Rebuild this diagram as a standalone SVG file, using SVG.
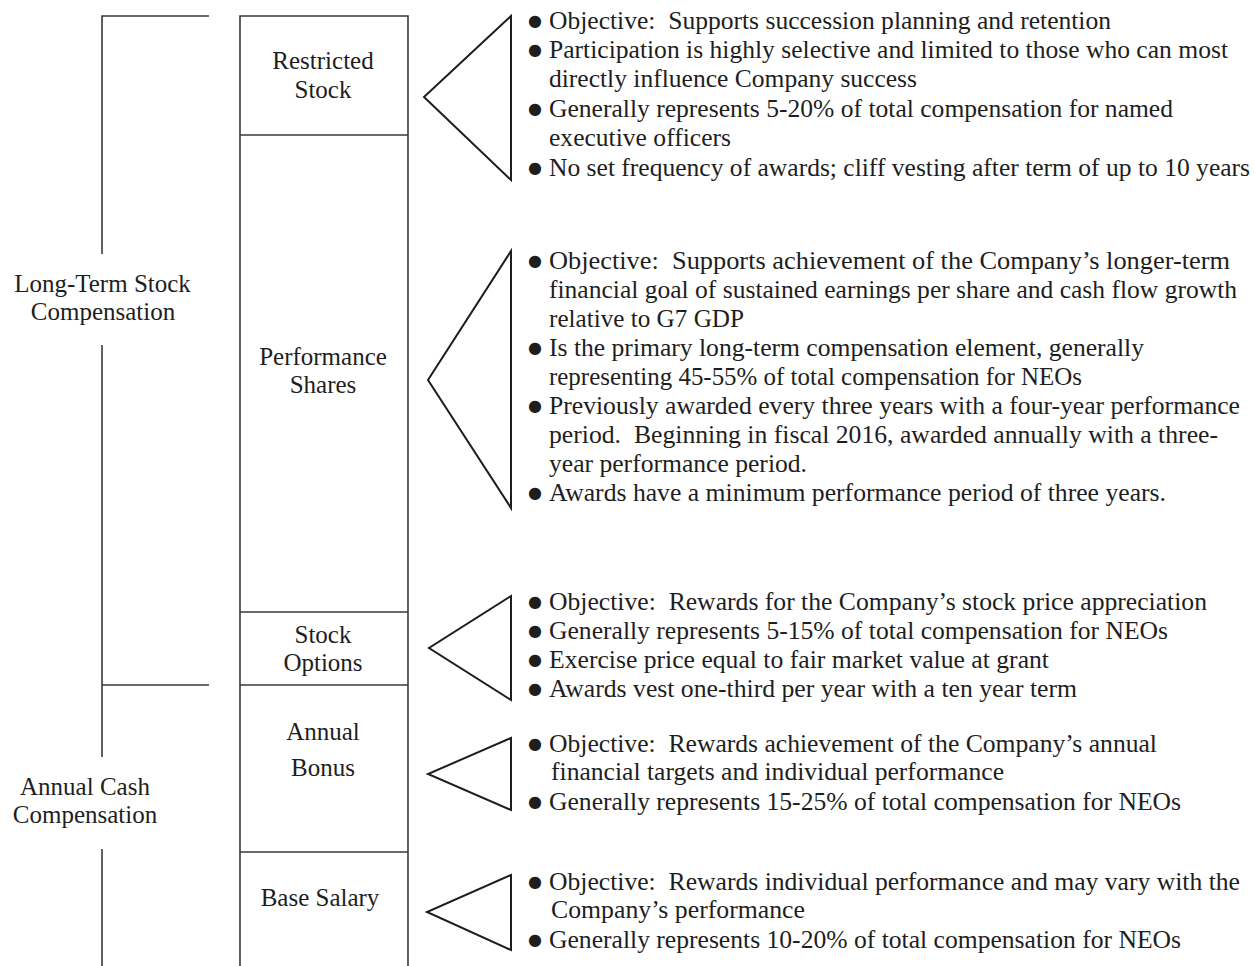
<svg xmlns="http://www.w3.org/2000/svg" width="1254" height="966" viewBox="0 0 1254 966">
<style>
.ln{stroke:#3a3a3a;stroke-width:1.6;fill:none}
.tri{stroke:#1e1e1e;stroke-width:2;fill:none;stroke-linejoin:miter}
text{font-family:"Liberation Serif","Times New Roman",serif;fill:#1e1e1e;white-space:pre}
.lab{font-size:25px;text-anchor:middle}
.bt{font-size:25px}
.bu{font-family:"DejaVu Sans",sans-serif;font-size:16px}
</style>
<rect width="1254" height="966" fill="#ffffff"/>
<g id="connectors">
<path class="ln" d="M209,16H102V254M102,345V757M102,685H209M102,849V966"/>
<polygon class="tri" points="511,16 424,97 511,180"/>
<polygon class="tri" points="511,251 428,380 511,508"/>
<polygon class="tri" points="511,596 429,648 511,700"/>
<polygon class="tri" points="511,738 428,774 511,810"/>
<polygon class="tri" points="511,875 427,912 511,950"/>
</g>
<g id="long-term-stock-compensation">
<text class="lab" x="102.5" y="292">Long-Term Stock</text>
<text class="lab" x="103" y="320">Compensation</text>
</g>
<g id="annual-cash-compensation">
<text class="lab" x="85" y="795">Annual Cash</text>
<text class="lab" x="85" y="823">Compensation</text>
</g>
<g id="column">
<path class="ln" d="M240,966V16H408V966"/>
</g>
<g id="restricted-stock">
<path class="ln" d="M240,135H408"/>
<text class="lab" x="323" y="69">Restricted</text>
<text class="lab" x="323" y="98">Stock</text>
</g>
<g id="performance-shares">
<path class="ln" d="M240,612H408"/>
<text class="lab" x="323" y="365">Performance</text>
<text class="lab" x="323" y="393">Shares</text>
</g>
<g id="stock-options">
<path class="ln" d="M240,685H408"/>
<text class="lab" x="323" y="643">Stock</text>
<text class="lab" x="323" y="671">Options</text>
</g>
<g id="annual-bonus">
<path class="ln" d="M240,852H408"/>
<text class="lab" x="323" y="740">Annual</text>
<text class="lab" x="323" y="776">Bonus</text>
</g>
<g id="base-salary">
<text class="lab" x="320" y="906">Base Salary</text>
</g>
<g id="restricted-stock-details">
<text class="bu" x="528" y="26">●</text>
<text class="bt" x="549" y="29" textLength="562" lengthAdjust="spacingAndGlyphs">Objective:  Supports succession planning and retention</text>
<text class="bu" x="528" y="55">●</text>
<text class="bt" x="549" y="58" textLength="679" lengthAdjust="spacingAndGlyphs">Participation is highly selective and limited to those who can most</text>
<text class="bt" x="549" y="87" textLength="368" lengthAdjust="spacingAndGlyphs">directly influence Company success</text>
<text class="bu" x="528" y="114">●</text>
<text class="bt" x="549" y="117" textLength="624" lengthAdjust="spacingAndGlyphs">Generally represents 5-20% of total compensation for named</text>
<text class="bt" x="549" y="146" textLength="182" lengthAdjust="spacingAndGlyphs">executive officers</text>
<text class="bu" x="528" y="173">●</text>
<text class="bt" x="549" y="176" textLength="701" lengthAdjust="spacingAndGlyphs">No set frequency of awards; cliff vesting after term of up to 10 years</text>
</g>
<g id="performance-shares-details">
<text class="bu" x="528" y="266">●</text>
<text class="bt" x="549" y="269" textLength="681" lengthAdjust="spacingAndGlyphs">Objective:  Supports achievement of the Company’s longer-term</text>
<text class="bt" x="549" y="298" textLength="688" lengthAdjust="spacingAndGlyphs">financial goal of sustained earnings per share and cash flow growth</text>
<text class="bt" x="549" y="327" textLength="195" lengthAdjust="spacingAndGlyphs">relative to G7 GDP</text>
<text class="bu" x="528" y="353">●</text>
<text class="bt" x="549" y="356" textLength="595" lengthAdjust="spacingAndGlyphs">Is the primary long-term compensation element, generally</text>
<text class="bt" x="549" y="385" textLength="533" lengthAdjust="spacingAndGlyphs">representing 45-55% of total compensation for NEOs</text>
<text class="bu" x="528" y="411">●</text>
<text class="bt" x="549" y="414" textLength="691" lengthAdjust="spacingAndGlyphs">Previously awarded every three years with a four-year performance</text>
<text class="bt" x="549" y="443" textLength="669" lengthAdjust="spacingAndGlyphs">period.  Beginning in fiscal 2016, awarded annually with a three-</text>
<text class="bt" x="549" y="472" textLength="258" lengthAdjust="spacingAndGlyphs">year performance period.</text>
<text class="bu" x="528" y="498">●</text>
<text class="bt" x="549" y="501" textLength="617" lengthAdjust="spacingAndGlyphs">Awards have a minimum performance period of three years.</text>
</g>
<g id="stock-options-details">
<text class="bu" x="528" y="607">●</text>
<text class="bt" x="549" y="610" textLength="658" lengthAdjust="spacingAndGlyphs">Objective:  Rewards for the Company’s stock price appreciation</text>
<text class="bu" x="528" y="636">●</text>
<text class="bt" x="549" y="639" textLength="619" lengthAdjust="spacingAndGlyphs">Generally represents 5-15% of total compensation for NEOs</text>
<text class="bu" x="528" y="665">●</text>
<text class="bt" x="549" y="668" textLength="500" lengthAdjust="spacingAndGlyphs">Exercise price equal to fair market value at grant</text>
<text class="bu" x="528" y="694">●</text>
<text class="bt" x="549" y="697" textLength="528" lengthAdjust="spacingAndGlyphs">Awards vest one-third per year with a ten year term</text>
</g>
<g id="annual-bonus-details">
<text class="bu" x="528" y="749">●</text>
<text class="bt" x="549" y="752" textLength="608" lengthAdjust="spacingAndGlyphs">Objective:  Rewards achievement of the Company’s annual</text>
<text class="bt" x="551" y="780" textLength="453" lengthAdjust="spacingAndGlyphs">financial targets and individual performance</text>
<text class="bu" x="528" y="807">●</text>
<text class="bt" x="549" y="810" textLength="632" lengthAdjust="spacingAndGlyphs">Generally represents 15-25% of total compensation for NEOs</text>
</g>
<g id="base-salary-details">
<text class="bu" x="528" y="887">●</text>
<text class="bt" x="549" y="890" textLength="691" lengthAdjust="spacingAndGlyphs">Objective:  Rewards individual performance and may vary with the</text>
<text class="bt" x="551" y="918" textLength="254" lengthAdjust="spacingAndGlyphs">Company’s performance</text>
<text class="bu" x="528" y="945">●</text>
<text class="bt" x="549" y="948" textLength="632" lengthAdjust="spacingAndGlyphs">Generally represents 10-20% of total compensation for NEOs</text>
</g>
</svg>
